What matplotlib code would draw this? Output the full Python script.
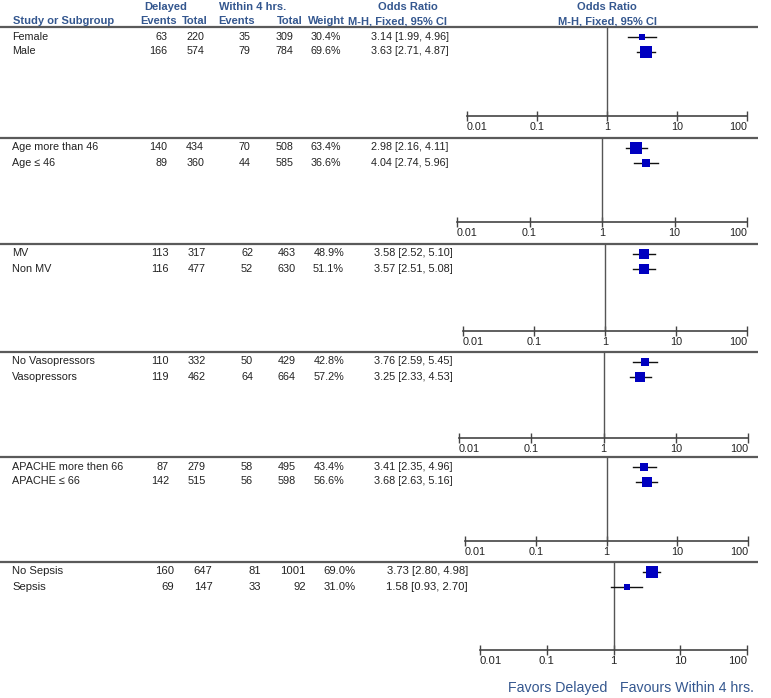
import matplotlib
matplotlib.use('Agg')
import matplotlib.pyplot as plt
import numpy as np

plt.rcParams['font.family'] = ['Liberation Sans', 'DejaVu Sans']

# subgroup data, one inner list per panel
labels = [["Female", "Male"],
          ["Age more than 46", "Age \u2264 46"],
          ["MV", "Non MV"],
          ["No Vasopressors", "Vasopressors"],
          ["APACHE more then 66", "APACHE \u2264 66"],
          ["No Sepsis", "Sepsis"]]
delayed_events = [[63, 166], [140, 89], [113, 116], [110, 119], [87, 142], [160, 69]]
delayed_total = [[220, 574], [434, 360], [317, 477], [332, 462], [279, 515], [647, 147]]
within_events = [[35, 79], [70, 44], [62, 52], [50, 64], [58, 56], [81, 33]]
within_total = [[309, 784], [508, 585], [463, 630], [429, 664], [495, 598], [1001, 92]]
weights = [[30.4, 69.6], [63.4, 36.6], [48.9, 51.1], [42.8, 57.2], [43.4, 56.6], [69.0, 31.0]]
odds = [[3.14, 3.63], [2.98, 4.04], [3.58, 3.57], [3.76, 3.25], [3.41, 3.68], [3.73, 1.58]]
ci_lo = [[1.99, 2.71], [2.16, 2.74], [2.52, 2.51], [2.59, 2.33], [2.35, 2.63], [2.80, 0.93]]
ci_hi = [[4.96, 4.87], [4.11, 5.96], [5.10, 5.08], [5.45, 4.53], [4.96, 5.16], [4.98, 2.70]]
ticks = [0.01, 0.1, 1, 10, 100]
tick_labels = ["0.01", "0.1", "1", "10", "100"]

# panel layout in pixels: separator y, axis y, left/right of axis, text scale
sep_y = [27, 138, 244, 352, 457, 562]
axis_y = [116, 222, 331, 438, 541, 650]
ax_left = [467, 457, 463, 459, 465, 480]
ax_right = [747, 747, 747, 748, 748, 747]
txt_scale = [0.99, 0.99, 1.0, 1.0, 1.0, 1.034]

W, H = 771, 698
hdr_col = '#34578f'
txt_col = '#222222'
fs = 7.8

fig = plt.figure(figsize=(W / 100, H / 100), dpi=100)
bg = fig.add_axes([0, 0, 1, 1])
bg.set_xlim(0, W)
bg.set_ylim(H, 0)
bg.axis('off')

# header
hkw = dict(color=hdr_col, fontweight='bold', fontsize=8, va='center')
bg.text(166, 7, "Delayed", ha='center', **hkw)
bg.text(253, 7, "Within 4 hrs.", ha='center', **hkw)
bg.text(408, 7, "Odds Ratio", ha='center', **hkw)
bg.text(607, 7, "Odds Ratio", ha='center', **hkw)
bg.text(13, 21, "Study or Subgroup", ha='left', **hkw)
bg.text(177, 21, "Events", ha='right', **hkw)
bg.text(208, 21, "Total", ha='right', **hkw)
bg.text(255, 21, "Events", ha='right', **hkw)
bg.text(303, 21, "Total", ha='right', **hkw)
bg.text(345, 21, "Weight", ha='right', **hkw)
bg.text(398, 21, "M-H, Fixed, 95% CI", ha='center', **hkw)
bg.text(607, 21, "M-H, Fixed, 95% CI", ha='center', **hkw)

col_right = [169, 206, 253, 296, 344, 453]

for p in range(len(labels)):
    s = txt_scale[p]
    bg.plot([0, 758], [sep_y[p], sep_y[p]], color='#5a5a5a', lw=1.6, solid_capstyle='butt')

    ax = fig.add_axes([ax_left[p] / W, 1 - axis_y[p] / H,
                       (ax_right[p] - ax_left[p]) / W, (axis_y[p] - sep_y[p]) / H])
    ax.patch.set_alpha(0)
    ax.set_xscale('log')
    ax.set_xlim(0.01, 100)
    ax.set_ylim(axis_y[p], sep_y[p])
    for sp in ['top', 'left', 'right']:
        ax.spines[sp].set_visible(False)
    ax.spines['bottom'].set_color('#444444')
    ax.spines['bottom'].set_linewidth(1.2)
    ax.set_yticks([])
    ax.set_xticks(ticks)
    ax.set_xticklabels(tick_labels)
    ax.minorticks_off()
    ax.tick_params(axis='x', direction='inout', length=7, width=1, color='#444444',
                   labelsize=fs * s, labelcolor=txt_col, pad=1)
    lbls = ax.get_xticklabels()
    lbls[0].set_ha('left')
    lbls[-1].set_ha('right')
    ax.axvline(1, color='#555555', lw=1)

    for i in range(len(labels[p])):
        y = sep_y[p] + 9.5 + 15 * i
        ax.plot([ci_lo[p][i], ci_hi[p][i]], [y, y], color='#111111', lw=1)
        side = 1.4 + 0.16 * weights[p][i]
        ax.plot(odds[p][i], y, marker='s', color='#0000c0', markersize=side * 0.72,
                markeredgewidth=0)

        def cx(x):
            return 12 + (x - 12) * s
        tkw = dict(fontsize=fs * s, color=txt_col, va='center')
        bg.text(12, y, labels[p][i], ha='left', **tkw)
        vals = [str(delayed_events[p][i]), str(delayed_total[p][i]),
                str(within_events[p][i]), str(within_total[p][i]),
                "%.1f%%" % weights[p][i],
                "%.2f [%.2f, %.2f]" % (odds[p][i], ci_lo[p][i], ci_hi[p][i])]
        for c, v in zip(col_right, vals):
            bg.text(cx(c), y, v, ha='right', **tkw)

# footer
bg.text(607, 688, "Favors Delayed", ha='right', va='center', color=hdr_col, fontsize=10.2)
bg.text(620, 688, "Favours Within 4 hrs.", ha='left', va='center', color=hdr_col, fontsize=10.2)

fig.savefig('out.png', dpi=100)
